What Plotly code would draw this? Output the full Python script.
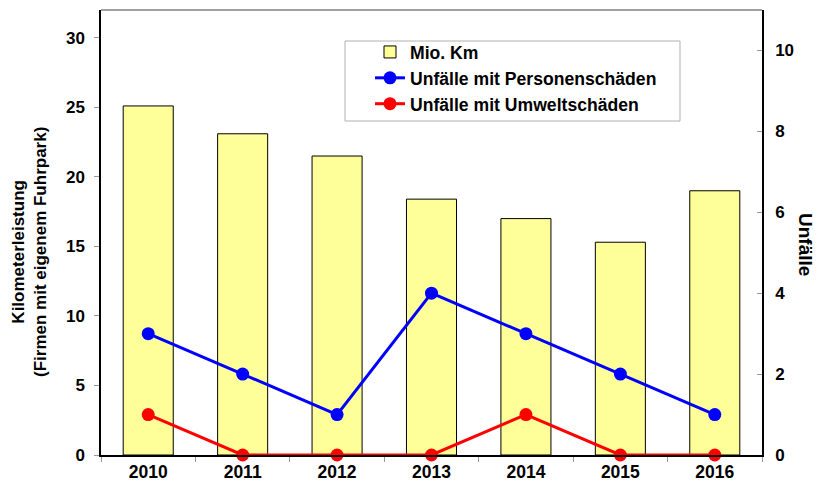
import plotly.graph_objects as go

years = ["2010", "2011", "2012", "2013", "2014", "2015", "2016"]
mio_km = [25.1, 23.1, 21.5, 18.4, 17.0, 15.3, 19.0]
personen = [3, 2, 1, 4, 3, 2, 1]
umwelt = [1, 0, 0, 0, 1, 0, 0]

FONT = "Liberation Sans"
OFF = 8  # default body margin of the html page
W, H = 832 - OFF, 484 - OFF
# plot area in page pixels
PL, PR, PT, PB = 101, 762, 10, 455
L, R, T, B = PL - OFF, W - (PR - OFF), PT - OFF, H - (PB - OFF)
pw, ph = PR - PL, PB - PT

def px(x):
    return (x - PL) / pw

def py(y):
    return (PB - y) / ph

BOLD = dict(family=FONT, color="black", weight="bold")

fig = go.Figure()
fig.add_trace(go.Bar(
    x=years, y=mio_km, name="Mio. Km",
    marker=dict(color="#FFFF99", line=dict(color="#000000", width=1)),
    yaxis="y"))
fig.add_trace(go.Scatter(
    x=years, y=personen, name="Unfälle mit Personenschäden",
    mode="lines+markers", line=dict(color="#0000FF", width=3),
    marker=dict(size=13, color="#0000FF"), yaxis="y2"))
fig.add_trace(go.Scatter(
    x=years, y=umwelt, name="Unfälle mit Umweltschäden",
    mode="lines+markers", line=dict(color="#FF0000", width=3),
    marker=dict(size=13, color="#FF0000"), yaxis="y2", cliponaxis=False))

fig.update_layout(
    width=W, height=H, autosize=False,
    margin=dict(l=L, r=R, t=T, b=B, autoexpand=False),
    paper_bgcolor="white", plot_bgcolor="white",
    font=dict(family=FONT, size=17, color="black"),
    bargap=0.47,
    showlegend=True,
    legend=dict(x=px(370), y=py(34), xanchor="left", yanchor="top",
                bgcolor="rgba(0,0,0,0)", borderwidth=0,
                font=dict(size=17.6, **BOLD),
                itemwidth=30, tracegroupgap=0),
    xaxis=dict(range=[-0.5, 6.5], showline=True, linecolor="black", linewidth=1.5,
               ticks="outside", ticklen=5, tickcolor="#999999", automargin=False,
               tickson="boundaries", showgrid=False, ticklabelstandoff=0,
               tickfont=dict(size=17.5, **BOLD)),
    yaxis=dict(range=[0, 32], tickvals=[0, 5, 10, 15, 20, 25, 30],
               showline=True, linecolor="black", linewidth=1.5, automargin=False,
               ticks="outside", ticklen=5, tickcolor="#999999", showgrid=False,
               zeroline=False, ticklabelstandoff=6,
               tickfont=dict(size=17, **BOLD)),
    yaxis2=dict(range=[0, 11], tickvals=[0, 2, 4, 6, 8, 10], overlaying="y", side="right",
                showline=True, linecolor="black", linewidth=1.5, automargin=False,
                ticks="inside", ticklen=5, tickcolor="#999999", showgrid=False,
                zeroline=False, ticklabelstandoff=8,
                tickfont=dict(size=17, **BOLD)),
    shapes=[
        dict(type="line", xref="paper", yref="paper", x0=0, x1=1, y0=1, y1=1,
             line=dict(color="#808080", width=1.5)),
        dict(type="rect", xref="paper", yref="paper",
             x0=px(345), x1=px(680), y0=py(121), y1=py(41),
             line=dict(color="#B0B0B0", width=1), fillcolor="white", layer="below"),
    ],
    annotations=[
        dict(text="Kilometerleistung<br>(Firmen mit eigenem Fuhrpark)",
             xref="paper", yref="paper", x=px(30), y=py(252),
             xanchor="center", yanchor="middle",
             textangle=-90, showarrow=False,
             font=dict(size=17, **BOLD)),
        dict(text="Unfälle", xref="paper", yref="paper",
             x=px(806), y=py(244), xanchor="center", yanchor="middle",
             textangle=90, showarrow=False,
             font=dict(size=19, **BOLD)),
    ],
)

fig.write_html("out.html")
